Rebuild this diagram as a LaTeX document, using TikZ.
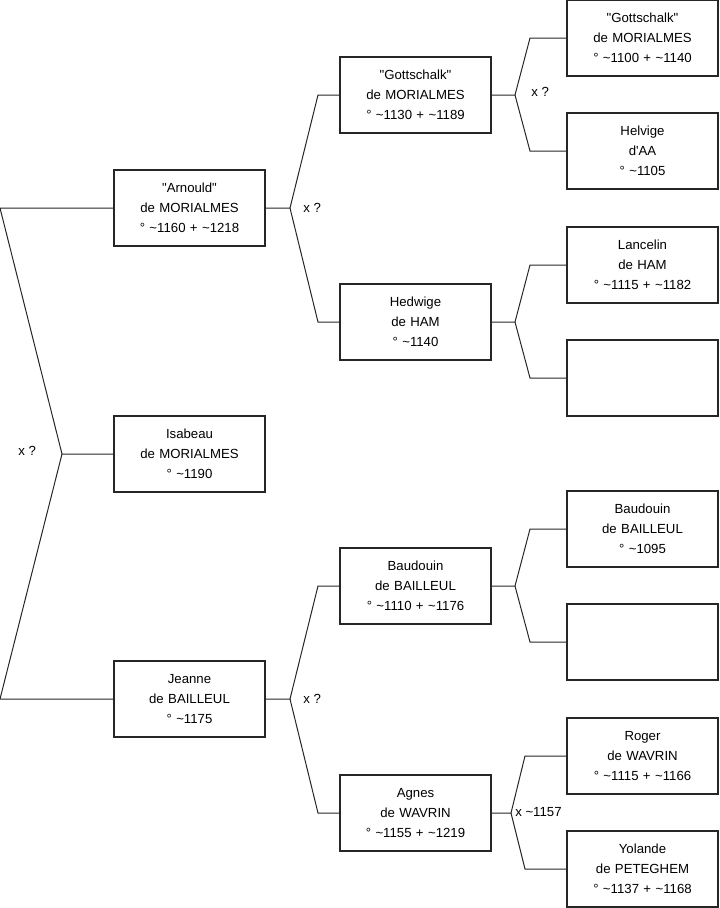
\documentclass[tikz,border=0pt]{standalone}
\usepackage{fontspec}
\setmainfont{Liberation Sans}
\usepackage{tikz}
\usetikzlibrary{positioning, calc}
\newcommand{\abt}{\textasciitilde}
\newcommand{\qq}[1]{\textquotedbl#1\textquotedbl}
\tikzset{
    personbox/.style={rectangle, draw=black!85, line width=0.8pt, fill=white,
                      align=center, text width=113pt, minimum width=113.25pt,
                      minimum height=57pt, inner sep=0pt,
                      font=\fontsize{9.9}{15}\selectfont},
    link/.style={draw=black!85, line width=0.75pt},
    unionlbl/.style={font=\fontsize{9.9}{11}\selectfont, anchor=west, inner sep=0pt},
}

\begin{document}
\begin{tikzpicture}[x=0.75pt, y=-0.75pt]
    \useasboundingbox (0,0) rectangle (719,908);
    % first generation
    \node[personbox] (arnould) at (189.5,208) {\qq{Arnould}\\de MORIALMES\\° \abt1160 + \abt1218};
    \node[personbox] (isabeau) at (189.5,454) {Isabeau\\de MORIALMES\\° \abt1190};
    \node[personbox] (jeanne) at (189.5,699) {Jeanne\\de BAILLEUL\\° \abt1175};
    % second generation
    \node[personbox] (gottschalk) at (415.5,95) {\qq{Gottschalk}\\de MORIALMES\\° \abt1130 + \abt1189};
    \node[personbox] (hedwige) at (415.5,322) {Hedwige\\de HAM\\° \abt1140};
    \node[personbox] (baudouin) at (415.5,586) {Baudouin\\de BAILLEUL\\° \abt1110 + \abt1176};
    \node[personbox] (agnes) at (415.5,813) {Agnes\\de WAVRIN\\° \abt1155 + \abt1219};
    % third generation
    \node[personbox] (gottschalksr) at (642.5,38) {\qq{Gottschalk}\\de MORIALMES\\° \abt1100 + \abt1140};
    \node[personbox] (helvige) at (642.5,151) {Helvige\\d\textquotesingle AA\\° \abt1105};
    \node[personbox] (lancelin) at (642.5,265) {Lancelin\\de HAM\\° \abt1115 + \abt1182};
    \node[personbox] (hammother) at (642.5,378) {};
    \node[personbox] (baudouinsr) at (642.5,529) {Baudouin\\de BAILLEUL\\° \abt1095};
    \node[personbox] (bailmother) at (642.5,642) {};
    \node[personbox] (roger) at (642.5,756) {Roger\\de WAVRIN\\° \abt1115 + \abt1166};
    \node[personbox] (yolande) at (642.5,869) {Yolande\\de PETEGHEM\\° \abt1137 + \abt1168};

    % isabeau's parents
    \coordinate (j0) at (62,454);
    \coordinate (j0a) at (0,208);
    \coordinate (j0b) at (0,699);
    \draw[link] (isabeau.west) -- (j0) -- (j0a) -- (arnould.west);
    \draw[link] (j0) -- (j0b) -- (jeanne.west);
    \node[unionlbl] (u0) at (18,451) {x ?};

    % arnould's parents
    \coordinate (j1) at (290,208);
    \draw[link] (arnould.east) -- (j1) -- (318,95) -- (gottschalk.west);
    \draw[link] (j1) -- (318,322) -- (hedwige.west);
    \node[unionlbl] (u1) at (303,208) {x ?};

    % jeanne's parents
    \coordinate (j2) at (290,699);
    \draw[link] (jeanne.east) -- (j2) -- (318,586) -- (baudouin.west);
    \draw[link] (j2) -- (318,813) -- (agnes.west);
    \node[unionlbl] (u2) at (303,699) {x ?};

    % gottschalk's parents
    \coordinate (j3) at (515,95);
    \draw[link] (gottschalk.east) -- (j3) -- (530,38) -- (gottschalksr.west);
    \draw[link] (j3) -- (530,151) -- (helvige.west);
    \node[unionlbl] (u3) at (531,92) {x ?};

    % hedwige's parents
    \coordinate (j4) at (515,322);
    \draw[link] (hedwige.east) -- (j4) -- (530,265) -- (lancelin.west);
    \draw[link] (j4) -- (530,378) -- (hammother.west);

    % baudouin's parents
    \coordinate (j5) at (515,586);
    \draw[link] (baudouin.east) -- (j5) -- (530,529) -- (baudouinsr.west);
    \draw[link] (j5) -- (530,642) -- (bailmother.west);

    % agnes's parents
    \coordinate (j6) at (511,813);
    \draw[link] (agnes.east) -- (j6) -- (525,756) -- (roger.west);
    \draw[link] (j6) -- (525,869) -- (yolande.west);
    \node[unionlbl] (u6) at (515,812) {x \abt1157};
\end{tikzpicture}
\end{document}
